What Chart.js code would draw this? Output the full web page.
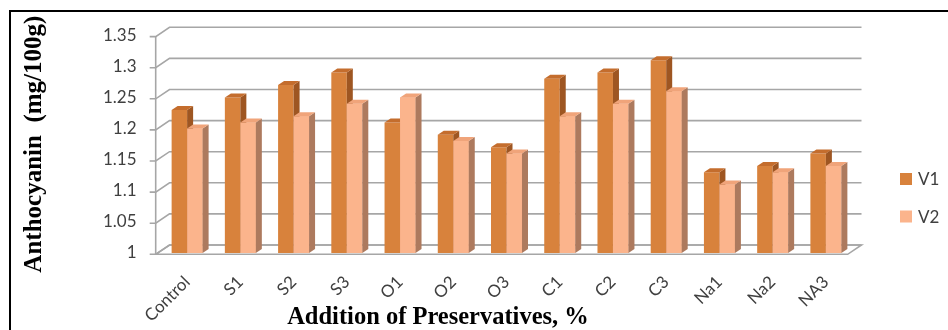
<!DOCTYPE html>
<html>
<head>
<meta charset="utf-8">
<script src="https://cdn.jsdelivr.net/npm/chart.js@4.4.1/dist/chart.umd.min.js"></script>
<style>
  html, body { margin: 0; padding: 0; background: #ffffff; }
  canvas { display: block; }
</style>
</head>
<body>
<canvas id="chart" width="948" height="330"></canvas>
<script>
// Anthocyanin content per preservative treatment
const categories = ['Control', 'S1', 'S2', 'S3', 'O1', 'O2', 'O3', 'C1', 'C2', 'C3', 'Na1', 'Na2', 'NA3'];
const v1Values = [1.23, 1.25, 1.27, 1.29, 1.21, 1.19, 1.17, 1.28, 1.29, 1.31, 1.13, 1.14, 1.16];
const v2Values = [1.20, 1.21, 1.22, 1.24, 1.25, 1.18, 1.16, 1.22, 1.24, 1.26, 1.11, 1.13, 1.14];
const seriesNames = ['V1', 'V2'];
const yTicks = [1, 1.05, 1.1, 1.15, 1.2, 1.25, 1.3, 1.35];
const yTitle = 'Anthocyanin  (mg/100g)';
const xTitle = 'Addition of Preservatives, %';

// depth offsets of the pseudo-3D box relative to the bar plane
const FRONT = { dx: -4.8, dy: 1.3 };
const BACK = { dx: 9, dy: -8 };
const BAR_DEPTH = { dx: 6, dy: -4 };
const WALL_COLOR = '#a6a6a6';
const TEXT_COLOR = '#404040';

// floor, side wall and back wall gridlines
const wallPlugin = {
  id: 'wall3d',
  beforeDatasetsDraw(chart) {
    const { ctx, chartArea: a, scales: { y } } = chart;
    const fl = a.left + FRONT.dx, fr = a.right + FRONT.dx;
    const bl = a.left + BACK.dx, br = a.right + BACK.dx;
    const y0 = y.getPixelForValue(yTicks[0]);
    const yTop = y.getPixelForValue(yTicks[yTicks.length - 1]);
    ctx.save();
    ctx.strokeStyle = WALL_COLOR;
    ctx.lineWidth = 1.6;
    // floor
    ctx.beginPath();
    ctx.moveTo(fl, y0 + FRONT.dy);
    ctx.lineTo(fr, y0 + FRONT.dy);
    ctx.lineTo(br, y0 + BACK.dy);
    ctx.lineTo(bl, y0 + BACK.dy);
    ctx.closePath();
    ctx.stroke();
    // gridlines with tick marks
    yTicks.forEach(v => {
      const py = y.getPixelForValue(v);
      ctx.beginPath();
      ctx.moveTo(fl - 6, py + FRONT.dy);
      ctx.lineTo(fl, py + FRONT.dy);
      ctx.lineTo(bl, py + BACK.dy);
      ctx.lineTo(br, py + BACK.dy);
      ctx.stroke();
    });
    // vertical axis line
    ctx.beginPath();
    ctx.moveTo(fl, yTop + FRONT.dy);
    ctx.lineTo(fl, y0 + FRONT.dy);
    ctx.stroke();
    ctx.restore();
  }
};

// side and top faces of each bar, left series first so the right one
// (front face redrawn) correctly hides the hidden part of its neighbour
function drawDepth(ctx, bar, ds, bottom) {
  const { dx, dy } = BAR_DEPTH;
  const p = bar.getProps(['x', 'y', 'base', 'width'], true);
  const y = p.y, base = Math.min(p.base, bottom);
  const l = p.x - p.width / 2, r = p.x + p.width / 2;
  ctx.fillStyle = ds.sideColor;
  ctx.beginPath();
  ctx.moveTo(r, y);
  ctx.lineTo(r + dx, y + dy);
  ctx.lineTo(r + dx, base + dy);
  ctx.lineTo(r, base);
  ctx.closePath();
  ctx.fill();
  ctx.fillStyle = ds.topColor;
  ctx.beginPath();
  ctx.moveTo(l, y);
  ctx.lineTo(r, y);
  ctx.lineTo(r + dx, y + dy);
  ctx.lineTo(l + dx, y + dy);
  ctx.closePath();
  ctx.fill();
}

const barDepthPlugin = {
  id: 'barDepth',
  afterDatasetsDraw(chart) {
    const { ctx, chartArea: a } = chart;
    chart.data.datasets.forEach((ds, i) => {
      const meta = chart.getDatasetMeta(i);
      meta.data.forEach(bar => {
        if (i > 0) {
          ctx.save();
          ctx.beginPath();
          ctx.rect(a.left, a.top, a.right - a.left, a.bottom - a.top);
          ctx.clip();
          bar.draw(ctx, a);
          ctx.restore();
        }
        ctx.save();
        drawDepth(ctx, bar, ds, a.bottom);
        ctx.restore();
      });
    });
  }
};

// legend, x-axis caption and outer frame
const decorPlugin = {
  id: 'decor',
  afterDraw(chart) {
    const { ctx, chartArea: a } = chart;
    ctx.save();
    // legend
    ctx.font = '17px Lato';
    ctx.textBaseline = 'middle';
    ctx.textAlign = 'left';
    chart.data.datasets.forEach((ds, i) => {
      const lx = a.right + 47.5;
      const cy = 179 + i * 37.5;
      ctx.fillStyle = ds.backgroundColor;
      ctx.fillRect(lx, cy - 6, 12, 12);
      ctx.fillStyle = TEXT_COLOR;
      ctx.fillText(ds.label, lx + 18, cy + 1);
    });
    // x-axis caption
    ctx.font = 'bold 24.5px "Liberation Serif"';
    ctx.fillStyle = '#000000';
    ctx.textAlign = 'center';
    ctx.fillText(xTitle, 438, 318);
    // frame
    ctx.strokeStyle = '#000000';
    ctx.lineWidth = 2;
    ctx.strokeRect(10, 11, 960, 360);
    ctx.restore();
  }
};

new Chart(document.getElementById('chart'), {
  type: 'bar',
  data: {
    labels: categories,
    datasets: [
      {
        label: seriesNames[0],
        data: v1Values,
        backgroundColor: '#d8823c',
        sideColor: '#9e5622',
        topColor: '#c46d2d',
        borderWidth: 0,
        categoryPercentage: 0.582,
        barPercentage: 1
      },
      {
        label: seriesNames[1],
        data: v2Values,
        backgroundColor: '#fbb48c',
        sideColor: '#ad7a5e',
        topColor: '#f0a47a',
        borderWidth: 0,
        categoryPercentage: 0.582,
        barPercentage: 1
      }
    ]
  },
  options: {
    responsive: false,
    animation: false,
    layout: { padding: { left: 0, right: 95.5, top: 35.3, bottom: 0 } },
    plugins: {
      legend: { display: false },
      tooltip: { enabled: false }
    },
    scales: {
      x: {
        afterFit(s) { s.height = 77; },
        grid: { display: false, drawTicks: false },
        border: { display: false },
        ticks: {
          autoSkip: false,
          minRotation: 45,
          maxRotation: 45,
          padding: 19,
          color: TEXT_COLOR,
          font: { family: 'Lato', size: 17 }
        }
      },
      y: {
        min: yTicks[0],
        max: yTicks[yTicks.length - 1],
        afterBuildTicks(s) { s.ticks = yTicks.map(v => ({ value: v })); },
        afterFit(s) { s.width = 160.5; },
        grid: { display: false, drawTicks: false },
        border: { display: false },
        ticks: {
          padding: 24,
          color: TEXT_COLOR,
          font: { family: 'Lato', size: 17 },
          callback: v => String(v)
        },
        title: {
          display: true,
          text: yTitle,
          color: '#000000',
          font: { family: 'Liberation Serif', size: 25, weight: 'bold', lineHeight: 1.2 },
          padding: { top: 20, bottom: 0 }
        }
      }
    }
  },
  plugins: [wallPlugin, barDepthPlugin, decorPlugin]
});
</script>
</body>
</html>
